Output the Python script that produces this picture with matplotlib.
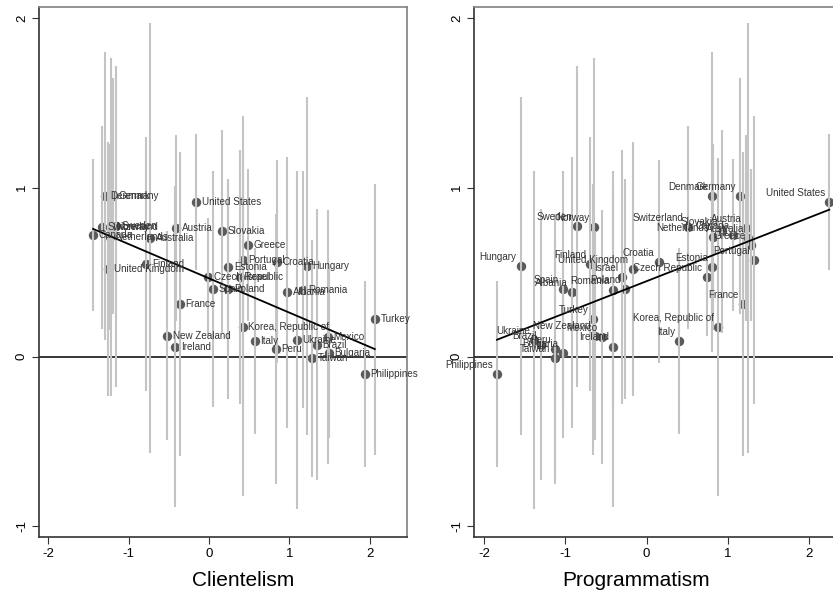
import matplotlib
matplotlib.use("Agg")
import matplotlib.pyplot as plt
import numpy as np

plt.rcParams['font.family'] = ['Liberation Sans', 'DejaVu Sans']

countries = ["Denmark", "Germany", "United States", "Sweden", "Switzerland", "Norway",
             "Canada", "Netherlands", "Austria", "Australia", "Slovakia", "Finland",
             "United Kingdom", "Czech Republic", "Israel", "Greece", "Portugal", "Croatia",
             "Hungary", "Estonia", "Spain", "Poland", "Albania", "Romania", "France",
             "Korea, Republic of", "New Zealand", "Ireland", "Italy", "Peru", "Ukraine",
             "Mexico", "Brazil", "Bulgaria", "Taiwan", "Turkey", "Philippines"]
clientelism = [-1.29, -1.19, -0.16, -1.16, -1.33, -1.22,
               -1.44, -1.23, -0.41, -0.73, 0.16, -0.78,
               -1.25, -0.01, 0.385, 0.48, 0.42, 0.84,
               1.22, 0.24, 0.05, 0.24, 0.97, 1.17, -0.36,
               0.42, -0.52, -0.42, 0.57, 0.83, 1.09,
               1.48, 1.34, 1.49, 1.28, 2.06, 1.94]
programmatism = [0.81, 1.15, 2.25, -0.86, 0.51, -0.65,
                 1.07, 0.82, 1.22, 1.25, 0.93, -0.69,
                 -0.17, 0.74, -0.30, 1.28, 1.32, 0.15,
                 -1.55, 0.81, -1.03, -0.27, -0.92, -0.41, 1.19,
                 0.88, -0.63, -0.41, 0.40, -1.13, -1.38,
                 -0.55, -1.30, -1.03, -1.13, -0.66, -1.84]
outcome = [0.95, 0.95, 0.915, 0.77, 0.765, 0.765,
           0.72, 0.705, 0.76, 0.70, 0.74, 0.55,
           0.52, 0.47, 0.47, 0.66, 0.57, 0.56,
           0.535, 0.53, 0.40, 0.40, 0.38, 0.395, 0.31,
           0.175, 0.125, 0.06, 0.09, 0.045, 0.10,
           0.115, 0.07, 0.02, -0.01, 0.22, -0.10]
ci_half = [0.85, 0.7, 0.4, 0.95, 0.6, 1.0,
           0.45, 0.55, 0.55, 1.27, 0.6, 0.75,
           0.75, 0.35, 0.75, 0.45, 0.85, 0.6,
           1.0, 0.5, 0.7, 0.65, 0.8, 0.7, 0.9,
           1.0, 0.62, 0.95, 0.55, 0.8, 1.0,
           0.75, 0.8, 0.5, 0.7, 0.8, 0.55]

fit_left = (-0.203, 0.463)   # slope, intercept
fit_right = (0.188, 0.446)

xticks = [-2, -1, 0, 1, 2]
yticks = [-1, 0, 1, 2]
xlabels = ["Clientelism", "Programmatism"]

fig = plt.figure(figsize=(8.33, 6.0), dpi=100)
ax1 = fig.add_axes([39/833, 63/600, 368/833, 530.5/600])
ax2 = fig.add_axes([474/833, 63/600, 368/833, 530.5/600])

y = np.array(outcome)
h = np.array(ci_half)

def panel(ax, xs, fit, xlim, label_right):
    xs = np.array(xs)
    ax.axhline(0, color='black', lw=1.1, zorder=1)
    ax.scatter(xs, y, s=46, color='#5a5a5a', zorder=2, linewidths=0)
    ax.vlines(xs, y - h, y + h, color='#c4c4c4', lw=1.5, zorder=3)
    xx = np.array([xs.min(), xs.max()])
    ax.plot(xx, fit[0] * xx + fit[1], color='black', lw=1.3, zorder=4)
    for c, xv, yv in zip(countries, xs, y):
        if label_right:
            ax.annotate(c, (xv, yv), xytext=(4, 0), textcoords='offset points',
                        ha='left', va='center', fontsize=7.1, color='#333333', zorder=5)
        else:
            ax.annotate(c, (xv, yv), xytext=(-3, 6.5), textcoords='offset points',
                        ha='right', va='center', fontsize=7.1, color='#333333', zorder=5)
    ax.set_xlim(*xlim)
    ax.set_ylim(-1.066, 2.07)
    ax.set_xticks(xticks)
    ax.set_xticklabels([str(t) for t in xticks], fontsize=9.5)
    ax.set_yticks(yticks)
    ax.set_yticklabels([str(t) for t in yticks], fontsize=9.5, rotation=90, va='center')
    ax.tick_params(direction='out', length=5, width=0.8, color='#333333', pad=3)
    for s in ['top', 'right']:
        ax.spines[s].set_color('#808080')
        ax.spines[s].set_linewidth(1.2)
    for s in ['left', 'bottom']:
        ax.spines[s].set_color('#333333')
        ax.spines[s].set_linewidth(1.2)

panel(ax1, clientelism, fit_left, (-2.112, 2.46), True)
panel(ax2, programmatism, fit_right, (-2.123, 2.406), False)
ax1.set_xlabel(xlabels[0], fontsize=15)
ax2.set_xlabel(xlabels[1], fontsize=15)
ax1.xaxis.set_label_coords((243 - 39) / 368, -0.065)
ax2.xaxis.set_label_coords((636 - 474) / 368, -0.065)

fig.savefig("out.png", dpi=100)
